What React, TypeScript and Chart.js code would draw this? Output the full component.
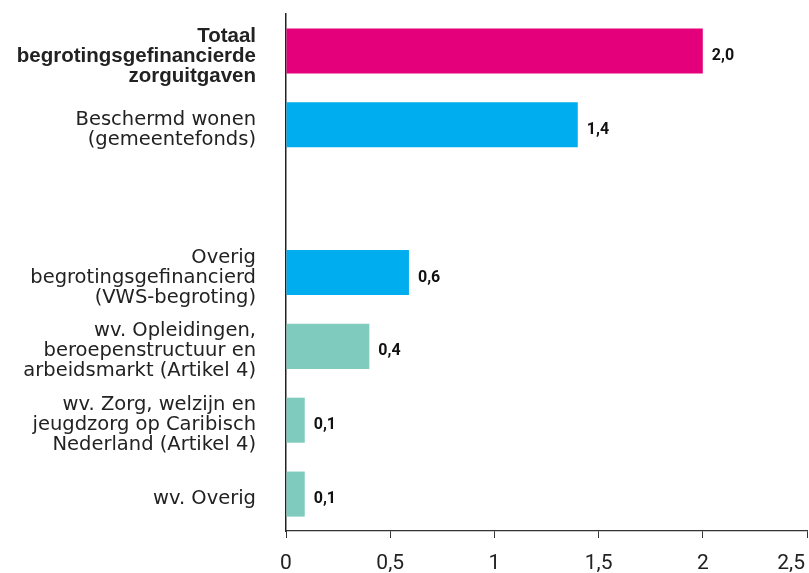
import React, { useEffect, useRef } from "react";
import { Chart, registerables } from "chart.js";

Chart.register(...registerables);

const categories: (string | string[])[] = [
  ["Totaal", "begrotingsgefinancierde", "zorguitgaven"],
  ["Beschermd wonen", "(gemeentefonds)"],
  "",
  ["Overig", "begrotingsgefinancierd", "(VWS-begroting)"],
  ["wv. Opleidingen,", "beroepenstructuur en", "arbeidsmarkt (Artikel 4)"],
  ["wv. Zorg, welzijn en", "jeugdzorg op Caribisch", "Nederland (Artikel 4)"],
  "wv. Overig",
];
const values: (number | null)[] = [2.0, 1.4, null, 0.59, 0.4, 0.09, 0.09];
const valueLabels = ["2,0", "1,4", "", "0,6", "0,4", "0,1", "0,1"];
const barColors = ["#E5007B", "#00ADEE", "#00ADEE", "#00ADEE", "#7FCCBF", "#7FCCBF", "#7FCCBF"];
const xTickValues = [0, 0.5, 1, 1.5, 2, 2.5];
const xTickLabels = ["0", "0,5", "1", "1,5", "2", "2,5"];

const W = 809;
const H = 573;

export default function App() {
  const ref = useRef<HTMLCanvasElement | null>(null);
  useEffect(() => {
    if (!ref.current) return;
    const labelsPlugin = {
      id: "customLabels",
      afterDraw(chart: any) {
        const ctx = chart.ctx;
        const xs = chart.scales.x;
        const meta = chart.getDatasetMeta(0);
        ctx.save();
        // value labels
        ctx.font = "bold 16px Roboto";
        ctx.fillStyle = "#111";
        ctx.textAlign = "left";
        ctx.textBaseline = "middle";
        meta.data.forEach((bar: any, i: number) => {
          if (values[i] == null) return;
          ctx.fillText(valueLabels[i], bar.x + 9, bar.y + 5);
        });
        // x tick labels
        ctx.font = "21px Roboto";
        ctx.fillStyle = "#222";
        ctx.textAlign = "center";
        xTickValues.forEach((v, i) => {
          const t = xTickLabels[i];
          const w = ctx.measureText(t).width;
          let x = xs.getPixelForValue(v);
          if (x + w / 2 > W - 4) x = W - 4 - w / 2;
          ctx.fillText(t, x, 564);
        });
        ctx.restore();
      },
    };
    const chart = new Chart(ref.current, {
      type: "bar",
      data: {
        labels: categories,
        datasets: [
          {
            data: values,
            backgroundColor: barColors,
            barPercentage: 0.61,
            categoryPercentage: 1,
          },
        ],
      },
      options: {
        indexAxis: "y",
        animation: false,
        responsive: false,
        layout: { padding: { top: 14, right: 2, left: 0, bottom: 0 } },
        plugins: { legend: { display: false }, tooltip: { enabled: false } },
        scales: {
          x: {
            min: 0,
            max: 2.5,
            afterBuildTicks: (s: any) => {
              s.ticks = xTickValues.map((v) => ({ value: v }));
            },
            afterFit: (s: any) => {
              s.height = 42;
              s.paddingLeft = 0;
              s.paddingRight = 0;
            },
            ticks: { display: false },
            grid: {
              display: true,
              drawOnChartArea: false,
              drawTicks: true,
              tickLength: 7,
              color: "#333",
              lineWidth: 1,
            },
            border: { display: true, color: "#333", width: 1.3 },
          },
          y: {
            afterFit: (s: any) => {
              s.width = 286;
              s.paddingTop = 0;
              s.paddingBottom = 0;
            },
            ticks: {
              color: "#222",
              padding: 30,
              labelOffset: 5,
              autoSkip: false,
              font: (c: any) =>
                c.index === 0
                  ? { family: "Liberation Sans", size: 20.5, weight: "bold", lineHeight: 20 / 20.5 }
                  : { family: "DejaVu Sans", size: 19.5, weight: "normal", lineHeight: 20 / 19.5 },
            },
            grid: { display: true, drawOnChartArea: false, drawTicks: false, color: "transparent" },
            border: { display: true, color: "#222", width: 1.5 },
          },
        },
      },
      plugins: [labelsPlugin],
    } as any);
    return () => chart.destroy();
  }, []);
  return (
    <div style={{ position: "fixed", left: 0, top: 0, width: W, height: H, background: "#fff" }}>
      <canvas ref={ref} width={W} height={H} style={{ display: "block" }} />
    </div>
  );
}
